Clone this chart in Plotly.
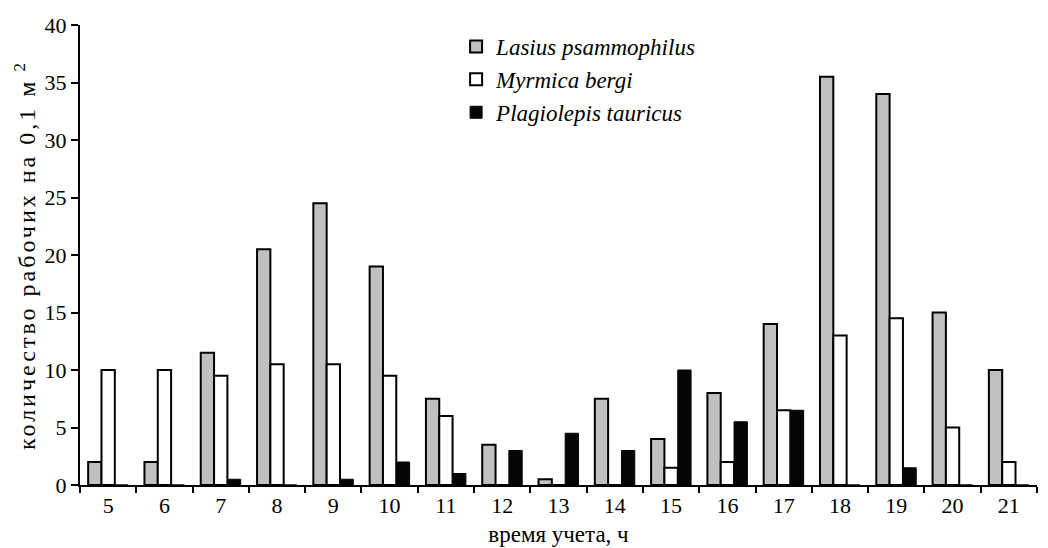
import plotly.graph_objects as go

hours = ["5", "6", "7", "8", "9", "10", "11", "12", "13", "14", "15", "16", "17", "18", "19", "20", "21"]
lasius = [2, 2, 11.5, 20.5, 24.5, 19, 7.5, 3.5, 0.5, 7.5, 4, 8, 14, 35.5, 34, 15, 10]
myrmica = [10, 10, 9.5, 10.5, 10.5, 9.5, 6, 0, 0, 0, 1.5, 2, 6.5, 13, 14.5, 5, 2]
plagiolepis = [0, 0, 0.5, 0, 0.5, 2, 1, 3, 4.5, 3, 10, 5.5, 6.5, 0, 1.5, 0, 0]

font = "Liberation Serif"

fig = go.Figure()
fig.add_trace(go.Bar(x=hours, y=lasius, name="<i>Lasius psammophilus</i>", legendgroup="a",
                     marker=dict(color="#c0c0c0", line=dict(color="black", width=2))))
fig.add_trace(go.Bar(x=hours, y=myrmica, name="<i>Myrmica bergi</i>", legendgroup="b",
                     marker=dict(color="white", line=dict(color="black", width=2))))
fig.add_trace(go.Bar(x=hours, y=plagiolepis, name="<i>Plagiolepis tauricus</i>", legendgroup="c",
                     marker=dict(color="#050505", line=dict(color="#050505", width=1))))

fig.update_layout(
    width=1048, height=548,
    margin=dict(l=80, r=11, t=25, b=63, autoexpand=False),
    paper_bgcolor="white", plot_bgcolor="white",
    barmode="group", bargap=0.29, bargroupgap=0,
    font=dict(family=font, size=22, color="black"),
    legend=dict(x=0.393, y=1.0, xanchor="left", yanchor="top",
                bgcolor="rgba(0,0,0,0)", font=dict(family=font, size=23),
                itemwidth=30, tracegroupgap=0),
    showlegend=True,
)
fig.update_xaxes(
    type="category", showline=True, linecolor="black", linewidth=2,
    ticks="outside", tickson="boundaries", ticklen=6, tickwidth=2, tickcolor="black",
    showgrid=False, zeroline=False, automargin=False,
    title=dict(text="время учета, ч", font=dict(family=font, size=23), standoff=8),
    tickfont=dict(family=font, size=22),
)
fig.update_yaxes(
    range=[0, 40], dtick=5, showline=True, linecolor="black", linewidth=2,
    ticks="outside", ticklen=7, tickwidth=2, tickcolor="black",
    showgrid=False, zeroline=False, automargin=False,
    title=dict(text='<span style="letter-spacing:3px">количество рабочих на 0,1 м<sup> 2</sup></span>',
               font=dict(family=font, size=24), standoff=2),
    tickfont=dict(family=font, size=22),
)

fig.write_html("out.html")
